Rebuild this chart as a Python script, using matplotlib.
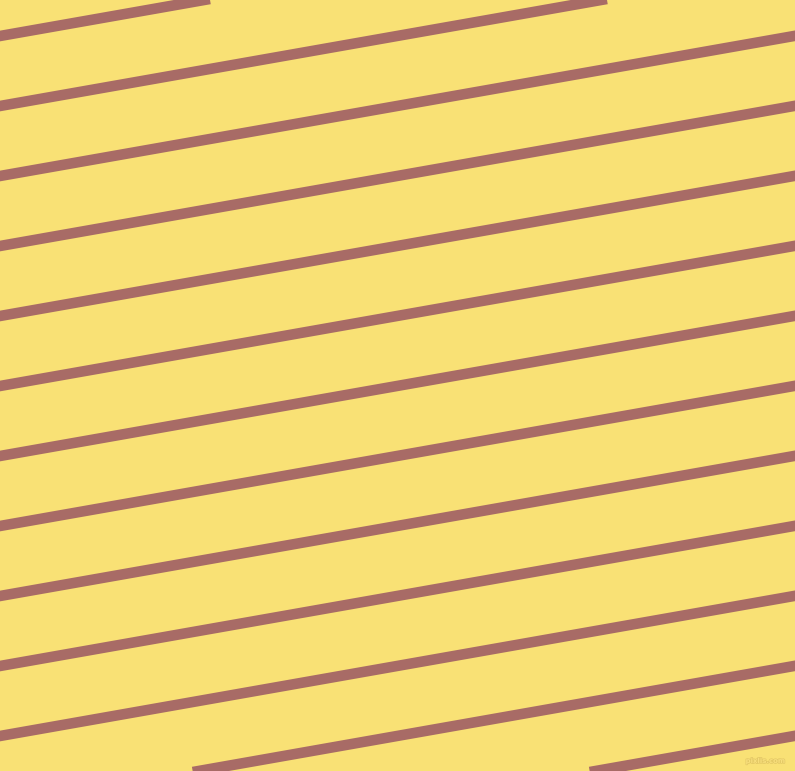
import numpy as np
import matplotlib
matplotlib.use("Agg")
import matplotlib.pyplot as plt
import matplotlib.patheffects as pe

# stripe centres where they cross the left edge (pixels from top)
intercepts = [36, 106, 176, 246, 316, 386, 456, 526, 596, 666, 736, 806, 876]
# stripes rise to the right by this angle
angle_deg = 10.0

W, H = 795, 771
bg_color = "#f9e175"
stripe_color = "#a86b66"

fig = plt.figure(figsize=(W / 100, H / 100), dpi=100)
ax = fig.add_axes([0, 0, 1, 1])
ax.set_facecolor(bg_color)
fig.patch.set_facecolor(bg_color)

slope = np.tan(np.radians(angle_deg))
xs = np.array([-20, W + 20])
for b in intercepts:
    ax.plot(xs, b - slope * xs, color=stripe_color, linewidth=7.6,
            solid_capstyle="butt")

ax.set_xlim(0, W)
ax.set_ylim(H, 0)
ax.axis("off")

# faint watermark
ax.text(786, 761, "pixlis.com", ha="right", va="center", fontsize=5,
        color="#f8df7c", fontweight="bold",
        path_effects=[pe.withStroke(linewidth=1.0, foreground="#e3c865")])

fig.savefig("out.png", dpi=100, facecolor=bg_color)
